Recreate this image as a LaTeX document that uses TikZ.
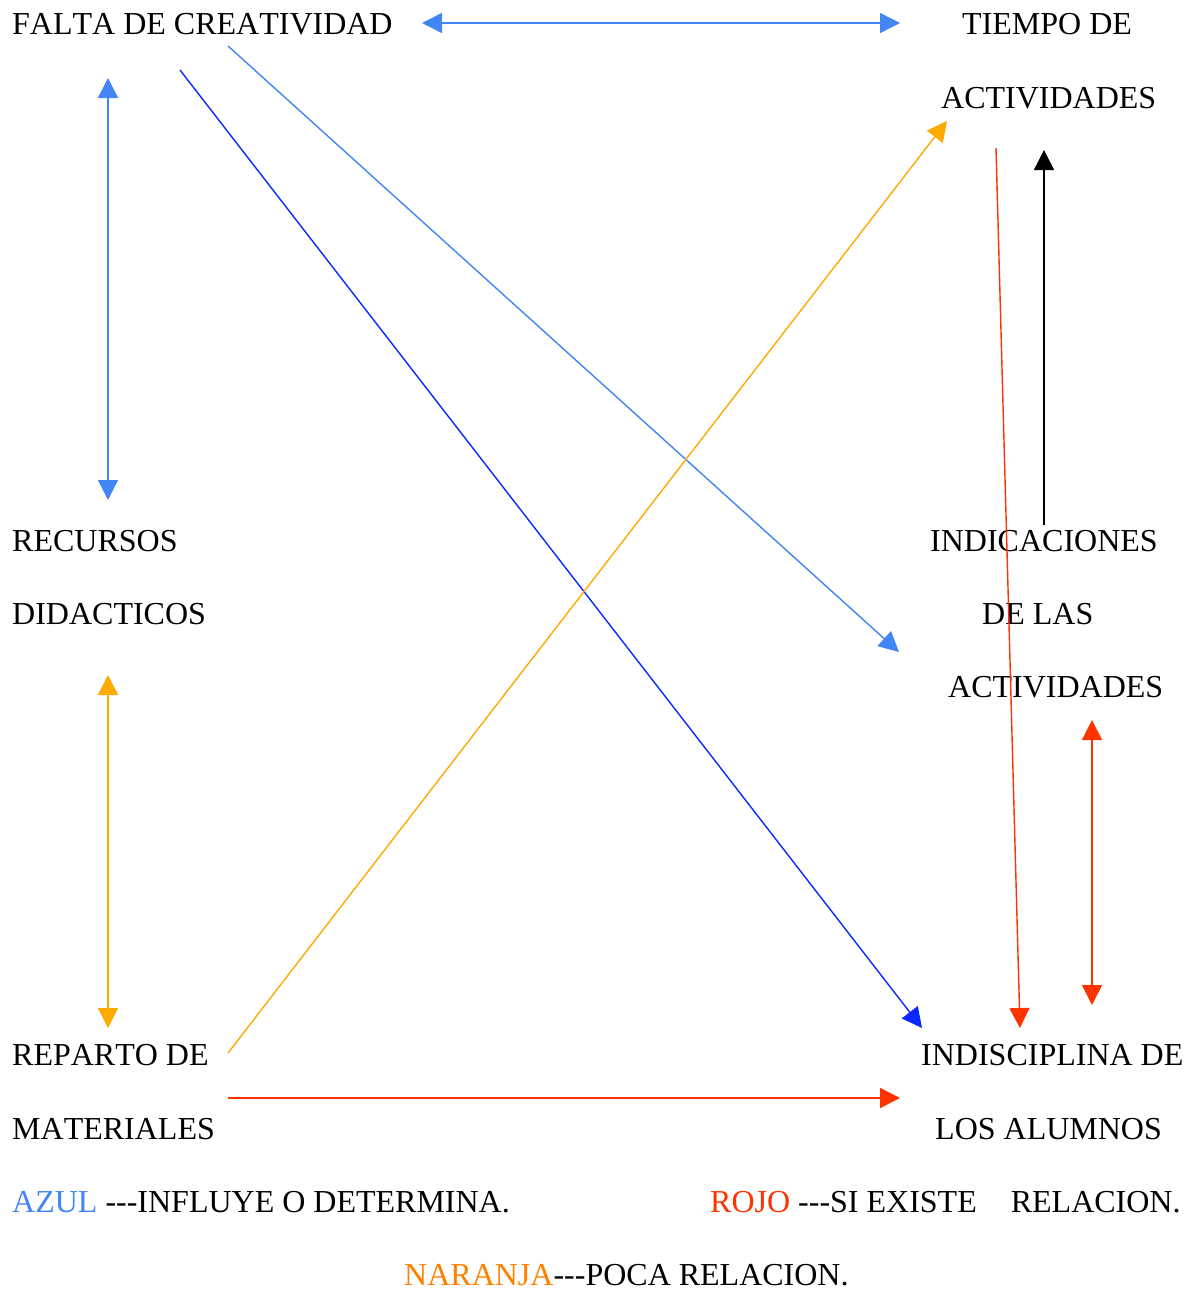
\documentclass[tikz,border=0pt]{standalone}
\usepackage{fontspec}
\setmainfont[Kerning=Off]{Liberation Serif}
\usetikzlibrary{arrows.meta}
\definecolor{azul}{RGB}{66,133,244}
\definecolor{azuloscuro}{RGB}{10,40,255}
\definecolor{naranja}{RGB}{255,170,0}
\definecolor{naranjaleyenda}{RGB}{255,128,0}
\definecolor{rojo}{RGB}{255,51,0}
\begin{document}
\begin{tikzpicture}[x=1pt,y=-1pt,
    every node/.style={anchor=base west,inner sep=0pt,font=\fontsize{32}{38}\selectfont},
    flecha/.style={-{Triangle[length=20pt,width=20pt]},line width=1.4pt},
    flechas/.style={{Triangle[length=20pt,width=20pt]}-{Triangle[length=20pt,width=20pt]},line width=1.4pt}]
      \useasboundingbox (0,0) rectangle (1190,1290);
      \node (falta) at (12,35) {FALTA DE CREATIVIDAD};
      \node (tiempoa) at (962,35) {TIEMPO DE};
      \node (tiempob) at (941,108) {ACTIVIDADES};
      \node (recursosa) at (12,551) {RECURSOS};
      \node (recursosb) at (12,624) {DIDACTICOS};
      \node (indicacionesa) at (930,551) {INDICACIONES};
      \node (indicacionesb) at (982,624) {DE LAS};
      \node (indicacionesc) at (948,697) {ACTIVIDADES};
      \node (repartoa) at (12,1065) {REPARTO DE};
      \node (repartob) at (12,1139) {MATERIALES};
      \node (indisciplinaa) at (921,1065) {INDISCIPLINA DE};
      \node (indisciplinab) at (935,1139) {LOS ALUMNOS};
      \node (azul) at (12,1212) {\textcolor{azul}{AZUL} -{}-{}-INFLUYE O DETERMINA.};
      \node (rojo) at (710,1212) {\textcolor{rojo}{ROJO} -{}-{}-SI EXISTE\hspace{26pt} RELACION.};
      \node (naranja) at (404,1285) {\textcolor{naranjaleyenda}{NARANJA}-{}-{}-POCA RELACION.};
      \coordinate (faltae) at (422,23);
      \coordinate (tiempoo) at (900,23);
      \coordinate (faltas) at (108,78);
      \coordinate (recursosn) at (108,500);
      \coordinate (faltac) at (180,70);
      \coordinate (indisciplinao) at (922,1028);
      \coordinate (faltad) at (228,46);
      \coordinate (indicacioneso) at (899,652);
      \coordinate (recursoss) at (108,675);
      \coordinate (repartos) at (108,1028);
      \coordinate (repartoe) at (228,1053);
      \coordinate (tiempos) at (947,121);
      \coordinate (tiempor) at (996,148);
      \coordinate (indisciplinan) at (1020,1028);
      \coordinate (indicacionesn) at (1044,525);
      \coordinate (tiempon) at (1044,150);
      \coordinate (indicacioness) at (1092,720);
      \coordinate (indisciplinar) at (1092,1005);
      \coordinate (repartor) at (228,1098);
      \coordinate (indisciplinae) at (900,1098);
      \draw[flechas,azul] (faltae) -- (tiempoo);
      \draw[flechas,azul] (faltas) -- (recursosn);
      \draw[flecha,azuloscuro] (faltac) -- (indisciplinao);
      \draw[flecha,azul] (faltad) -- (indicacioneso);
      \draw[flechas,naranja] (recursoss) -- (repartos);
      \draw[flecha,naranja] (repartoe) -- (tiempos);
      \draw[flecha,rojo] (tiempor) -- (indisciplinan);
      \draw[flecha,black] (indicacionesn) -- (tiempon);
      \draw[flechas,rojo] (indicacioness) -- (indisciplinar);
      \draw[flecha,rojo] (repartor) -- (indisciplinae);
    \end{tikzpicture}
\end{document}
